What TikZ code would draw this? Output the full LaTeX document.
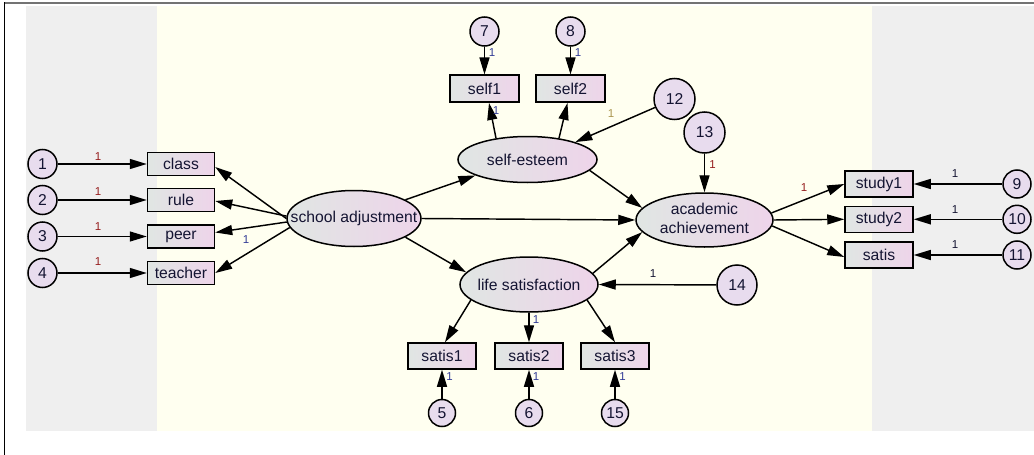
\documentclass[tikz,border=0pt]{standalone}
\usepackage{fontspec}
\setmainfont{Liberation Sans}
\usetikzlibrary{arrows.meta,calc,shapes.geometric}
\definecolor{bggray}{RGB}{239,239,239}
\definecolor{bgyel}{RGB}{255,255,240}
\definecolor{txt}{RGB}{20,20,50}
\definecolor{lgL}{RGB}{224,230,227}
\definecolor{lgR}{RGB}{238,212,234}
\definecolor{circ}{RGB}{232,220,238}
\definecolor{lred}{RGB}{150,30,30}
\definecolor{lblue}{RGB}{50,60,150}
\definecolor{lgold}{RGB}{170,150,80}
\begin{document}
\begin{tikzpicture}[x=1pt,y=-1pt,
  every node/.style={text=txt},
  nfont/.style={font=\fontsize{15.7}{19}\selectfont},
  obs/.style={draw,line width=1.5pt,rectangle,minimum width=68pt,minimum height=26pt,inner sep=0pt,left color=lgL,right color=lgR,nfont},
  obsl/.style={obs,minimum width=67pt,minimum height=23pt},
  lat/.style={draw,line width=1.5pt,ellipse,inner sep=0pt,left color=lgL,right color=lgR,nfont},
  err/.style={draw,line width=1.5pt,circle,fill=circ,inner sep=0pt,minimum size=28pt,nfont},
  errb/.style={err,minimum size=41pt},
  arr/.style={line width=1.45pt,-{Triangle[length=17pt,width=10pt]}},
  one/.style={font=\fontsize{11.5}{13}\selectfont,inner sep=0pt}
]
\useasboundingbox (0,0) rectangle (1034,455);
% background
\fill[bggray] (26,6) rectangle (157,431);
\fill[bgyel] (157,6) rectangle (872,431);
\fill[bggray] (872,6) rectangle (1034,431);
\draw[line width=2pt,color=black!55] (4,2.5) -- (1034,2.5);
\draw[line width=1pt] (4,2) -- (4,455);

% latent variables
\node[lat,minimum width=134pt,minimum height=56pt] (sa) at (354,218.5) {\makebox[0pt]{school adjustment}};
\node[lat,minimum width=139pt,minimum height=46pt] (se) at (527.5,159.5) {\makebox[0pt]{self-esteem}};
\node[lat,minimum width=138pt,minimum height=55pt] (ls) at (529,284.5) {\makebox[0pt]{life satisfaction}};
\node[lat,minimum width=137pt,minimum height=54pt] (aa) at (704.5,220) {\makebox[0pt]{\begin{tabular}{@{}c@{}}academic\\achievement\end{tabular}}};

% observed variables
\node[obsl] (class) at (181,164) {class};
\node[obsl] (rule) at (181,200) {rule};
\node[obsl] (peer) at (181,236.5) {peer};
\node[obsl] (teacher) at (181,273) {teacher};
\node[obs,minimum width=69pt,minimum height=27pt] (self1) at (484.5,88.7) {self1};
\node[obs,minimum width=69pt,minimum height=27pt] (self2) at (570.5,88.7) {self2};
\node[obs] (study1) at (879,184) {study1};
\node[obs] (study2) at (879,219.3) {study2};
\node[obs] (satis) at (879,255) {satis};
\node[obs] (satis1) at (442,356) {satis1};
\node[obs] (satis2) at (529,356) {satis2};
\node[obs] (satis3) at (615,356) {satis3};

% error terms
\node[err,minimum size=29pt] (e1) at (42.5,164) {1};
\node[err,minimum size=29pt] (e2) at (42.5,200) {2};
\node[err,minimum size=29pt] (e3) at (42.5,236.5) {3};
\node[err,minimum size=29pt] (e4) at (42.5,273) {4};
\node[err,minimum size=29pt] (e7) at (484.5,31.5) {7};
\node[err,minimum size=29pt] (e8) at (570.5,31.5) {8};
\node[err] (e9) at (1017,184) {9};
\node[err] (e10) at (1017,219.3) {10};
\node[err] (e11) at (1017,255) {11};
\node[err,minimum size=27pt] (e5) at (442,413) {5};
\node[err,minimum size=27pt] (e6) at (529,413) {6};
\node[err,minimum size=27pt] (e15) at (615,413) {15};
\node[errb] (e12) at (674.5,99) {12};
\node[errb] (e13) at (704.5,132.5) {13};
\node[errb,minimum size=40pt] (e14) at (737,285) {14};

% error arrows
\draw[arr] (e1) -- (class);
\draw[arr] (e2) -- (rule);
\draw[arr] (e3) -- (peer);
\draw[arr] (e4) -- (teacher);
\draw[arr] (e7) -- (self1);
\draw[arr] (e8) -- (self2);
\draw[arr] (e9) -- (study1);
\draw[arr] (e10) -- (study2);
\draw[arr] (e11) -- (satis);
\draw[arr] (e5) -- (satis1);
\draw[arr] (e6) -- (satis2);
\draw[arr] (e15) -- (satis3);
\draw[arr] (e12) -- (se.20);
\draw[arr] (e13) -- (aa.north);
\draw[arr] (e14) -- (ls.east);

% measurement arrows
\draw[arr] (sa.180) -- ([yshift=-3pt]class.east);
\draw[arr] (sa.178) -- ([yshift=-1pt]rule.east);
\draw[arr] (sa.183) -- ([yshift=4pt]peer.east);
\draw[arr] (sa.188) -- (teacher.east);
\draw[arr] (se.146) -- ([xshift=4.5pt]self1.south);
\draw[arr] (se.34) -- ([xshift=-3pt]self2.south);
\draw[arr] (aa.6) -- (study1.west);
\draw[arr] (aa.0) -- (study2.west);
\draw[arr] (aa.355) -- ([yshift=-2pt]satis.west);
\draw[arr] (ls.195) -- ([xshift=3pt]satis1.north);
\draw[arr] (ls.270) -- (satis2.north);
\draw[arr] (ls.345) -- (satis3.north);

% structural arrows
\draw[arr] (sa.20) -- (se.197);
\draw[arr] (sa.0) -- (aa.180);
\draw[arr] (sa.340) -- (ls.169);
\draw[arr] (se.350) -- (aa.169);
\draw[arr] (ls.10) -- (aa.191);

% labels
\node[one,text=lred] (l1) at (98,157) {1};
\node[one,text=lred] (l2) at (98,192) {1};
\node[one,text=lred] (l3) at (98,227) {1};
\node[one,text=lred] (l4) at (98,262) {1};
\node[one,text=lblue] (lpeer) at (246,240) {1};
\node[one,text=lblue] (l7) at (492,53) {1};
\node[one,text=lblue] (l8) at (578,53) {1};
\node[one,text=lblue] (lself1) at (496,111) {1};
\node[one,text=lgold] (l12) at (611,113.5) {1};
\node[one,text=lred] (l13) at (712.5,165) {1};
\node[one,text=lred] (lstudy) at (804,188) {1};
\node[one,text=txt] (l9) at (955,173.5) {1};
\node[one,text=txt] (l10) at (955,209.5) {1};
\node[one,text=txt] (l11) at (955,244.5) {1};
\node[one,text=txt] (l14) at (653,274) {1};
\node[one,text=lblue] (lsatis2) at (536,319.5) {1};
\node[one,text=lblue] (l5) at (449.5,377) {1};
\node[one,text=lblue] (l6) at (536,377) {1};
\node[one,text=lblue] (l15) at (622.5,377) {1};
\end{tikzpicture}
\end{document}
